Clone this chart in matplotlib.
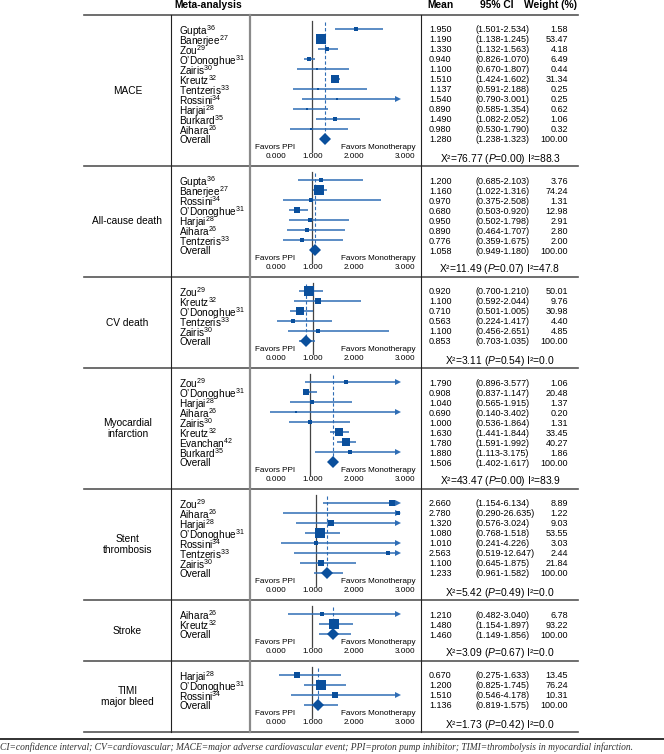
import numpy as np
import matplotlib
matplotlib.use('Agg')
import matplotlib.pyplot as plt

plt.rcParams['font.family'] = 'Liberation Sans'
plt.rcParams['mathtext.fontset'] = 'custom'
plt.rcParams['mathtext.rm'] = 'Liberation Sans'
plt.rcParams['mathtext.it'] = 'Liberation Sans:italic'
plt.rcParams['mathtext.bf'] = 'Liberation Sans:bold'

# ---- data ----
mace_names = ["Gupta", "Banerjee", "Zou", "O’Donoghue", "Zairis", "Kreutz", "Tentzeris",
              "Rossini", "Harjai", "Burkard", "Aihara", "Overall"]
mace_refs = ["36", "27", "29", "31", "30", "32", "33", "34", "28", "35", "26", ""]
mace_mean = [1.950, 1.190, 1.330, 0.940, 1.100, 1.510, 1.137, 1.540, 0.890, 1.490, 0.980, 1.280]
mace_lo = [1.501, 1.138, 1.132, 0.826, 0.670, 1.424, 0.591, 0.790, 0.585, 1.082, 0.530, 1.238]
mace_hi = [2.534, 1.245, 1.563, 1.070, 1.807, 1.602, 2.188, 3.001, 1.354, 2.052, 1.790, 1.323]
mace_w = [1.58, 53.47, 4.18, 6.49, 0.44, 31.34, 0.25, 0.25, 0.62, 1.06, 0.32, 100.00]
mace_stats = ["76.77", "0.00", "88.3"]

acd_names = ["Gupta", "Banerjee", "Rossini", "O’Donoghue", "Harjai", "Aihara", "Tentzeris", "Overall"]
acd_refs = ["36", "27", "34", "31", "28", "26", "33", ""]
acd_mean = [1.200, 1.160, 0.970, 0.680, 0.950, 0.890, 0.776, 1.058]
acd_lo = [0.685, 1.022, 0.375, 0.503, 0.502, 0.464, 0.359, 0.949]
acd_hi = [2.103, 1.316, 2.508, 0.920, 1.798, 1.707, 1.675, 1.180]
acd_w = [3.76, 74.24, 1.31, 12.98, 2.91, 2.80, 2.00, 100.00]
acd_stats = ["11.49", "0.07", "47.8"]

cvd_names = ["Zou", "Kreutz", "O’Donoghue", "Tentzeris", "Zairis", "Overall"]
cvd_refs = ["29", "32", "31", "33", "30", ""]
cvd_mean = [0.920, 1.100, 0.710, 0.563, 1.100, 0.853]
cvd_lo = [0.700, 0.592, 0.501, 0.224, 0.456, 0.703]
cvd_hi = [1.210, 2.044, 1.005, 1.417, 2.651, 1.035]
cvd_w = [50.01, 9.76, 30.98, 4.40, 4.85, 100.00]
cvd_stats = ["3.11", "0.54", "0.0"]

mi_names = ["Zou", "O’Donoghue", "Harjai", "Aihara", "Zairis", "Kreutz", "Evanchan", "Burkard", "Overall"]
mi_refs = ["29", "31", "28", "26", "30", "32", "42", "35", ""]
mi_mean = [1.790, 0.908, 1.040, 0.690, 1.000, 1.630, 1.780, 1.880, 1.506]
mi_lo = [0.896, 0.837, 0.565, 0.140, 0.536, 1.441, 1.591, 1.113, 1.402]
mi_hi = [3.577, 1.147, 1.915, 3.402, 1.864, 1.844, 1.992, 3.175, 1.617]
mi_w = [1.06, 20.48, 1.37, 0.20, 1.31, 33.45, 40.27, 1.86, 100.00]
mi_stats = ["43.47", "0.00", "83.9"]

st_names = ["Zou", "Aihara", "Harjai", "O’Donoghue", "Rossini", "Tentzeris", "Zairis", "Overall"]
st_refs = ["29", "26", "28", "31", "34", "33", "30", ""]
st_mean = [2.660, 2.780, 1.320, 1.080, 1.010, 2.563, 1.100, 1.233]
st_lo = [1.154, 0.290, 0.576, 0.768, 0.241, 0.519, 0.645, 0.961]
st_hi = [6.134, 26.635, 3.024, 1.518, 4.226, 12.647, 1.875, 1.582]
st_w = [8.89, 1.22, 9.03, 53.55, 3.03, 2.44, 21.84, 100.00]
st_stats = ["5.42", "0.49", "0.0"]

sk_names = ["Aihara", "Kreutz", "Overall"]
sk_refs = ["26", "32", ""]
sk_mean = [1.210, 1.480, 1.460]
sk_lo = [0.482, 1.154, 1.149]
sk_hi = [3.040, 1.897, 1.856]
sk_w = [6.78, 93.22, 100.00]
sk_stats = ["3.09", "0.67", "0.0"]

tm_names = ["Harjai", "O’Donoghue", "Rossini", "Overall"]
tm_refs = ["28", "31", "34", ""]
tm_mean = [0.670, 1.200, 1.510, 1.136]
tm_lo = [0.275, 0.825, 0.546, 0.819]
tm_hi = [1.633, 1.745, 4.178, 1.575]
tm_w = [13.45, 76.24, 10.31, 100.00]
tm_stats = ["1.73", "0.42", "0.0"]

sections = [
    ("MACE", mace_names, mace_refs, mace_mean, mace_lo, mace_hi, mace_w, mace_stats),
    ("All-cause death", acd_names, acd_refs, acd_mean, acd_lo, acd_hi, acd_w, acd_stats),
    ("CV death", cvd_names, cvd_refs, cvd_mean, cvd_lo, cvd_hi, cvd_w, cvd_stats),
    ("Myocardial\ninfarction", mi_names, mi_refs, mi_mean, mi_lo, mi_hi, mi_w, mi_stats),
    ("Stent\nthrombosis", st_names, st_refs, st_mean, st_lo, st_hi, st_w, st_stats),
    ("Stroke", sk_names, sk_refs, sk_mean, sk_lo, sk_hi, sk_w, sk_stats),
    ("TIMI\nmajor bleed", tm_names, tm_refs, tm_mean, tm_lo, tm_hi, tm_w, tm_stats),
]
tick_labels = ["0.000", "1.000", "2.000", "3.000"]

footnote = ("CI=confidence interval; CV=cardiovascular; MACE=major adverse cardiovascular event; "
            "PPI=proton pump inhibitor; TIMI=thrombolysis in myocardial infarction.")

# ---- layout (pixels) ----
W, H = 664, 754
X_LEFT, X_C1, X_C2, X_C3, X_RIGHT = 84, 171, 250, 421, 578
ONE_PX, PX_UNIT = 312, 46.0
shifts = [0, 0, 1, -2, 4, 0, 0]
tick_px = [276, 313, 354, 405]
SQ = '#0a4f9c'
LN = '#2f6db5'
GRID = '#555555'

fig = plt.figure(figsize=(W / 100, H / 100), dpi=100)
cv = fig.add_axes([0, 0, 1, 1])
cv.set_xlim(0, W)
cv.set_ylim(H, 0)
cv.axis('off')

# headers
hdr = dict(fontsize=7.4, fontweight='bold', ha='center', va='center')
cv.text(208, 4.5, "Meta-analysis", **hdr)
cv.text(440, 4.5, "Mean", **hdr)
cv.text(497, 4.5, "95% CI", **hdr)
cv.text(551, 4.5, "Weight (%)", **hdr)

top = 15
bounds = [top]
for k, (label, names, refs, mean, lo, hi, w, stats) in enumerate(sections):
    n = len(names)
    h = 10 * n + 31
    bottom = top + h
    bounds.append(bottom)
    rows = [bottom - 27 - 10 * (n - 1 - i) for i in range(n)]

    ax = fig.add_axes([X_C2 / W, 1 - bottom / H, (X_C3 - X_C2) / W, h / H])
    x0 = 1 - (ONE_PX + shifts[k] - X_C2) / PX_UNIT
    ax.set_xlim(x0, x0 + (X_C3 - X_C2) / PX_UNIT)
    ax.set_ylim(bottom, top)
    ax.axis('off')
    clip = 1 + (398 - ONE_PX - shifts[k]) / PX_UNIT

    ax.plot([1, 1], [rows[0] - 8, bottom - 14], color='#444444', lw=0.9, zorder=1)
    ax.plot([mean[-1]] * 2, [rows[0] - 7, rows[-1]], color=LN, lw=0.8,
            ls=(0, (3, 2)), zorder=1)

    for i in range(n):
        y = rows[i]
        ax.plot([lo[i], min(hi[i], clip)], [y, y], color=LN, lw=1.1,
                solid_capstyle='butt', zorder=2)
        if hi[i] > clip:
            ax.plot(clip, y, marker='>', ms=4.6, color=LN, mew=0, zorder=2)
        if i == n - 1:
            ax.plot(mean[i], y, marker='D', ms=6.3, color=SQ, mew=0, zorder=3)
        elif mean[i] <= clip:
            side = min(9.5, 2.0 + 1.05 * np.sqrt(w[i]))
            ax.plot(mean[i], y, marker='s', ms=side * 0.72, color=SQ, mew=0, zorder=3)

        nm = names[i] + (r"$^{\mathrm{%s}}$" % refs[i] if refs[i] else "")
        cv.text(179, y, nm, fontsize=7.2, ha='left', va='center_baseline')
        cv.text(429, y, "%.3f" % mean[i], fontsize=6.5, ha='left', va='center_baseline')
        cv.text(475, y, "(%.3f-%.3f)" % (lo[i], hi[i]), fontsize=6.5, ha='left',
                va='center_baseline')
        cv.text(568, y, "%.2f" % w[i], fontsize=6.5, ha='right', va='center_baseline')

    cv.text(127.5, (top + bottom) / 2, label, fontsize=7.3, ha='center', va='center',
            linespacing=1.15)
    cv.text(275, bottom - 18.5, "Favors PPI", fontsize=5.9, ha='center', va='center')
    cv.text(341, bottom - 18.5, "Favors Monotherapy", fontsize=5.9, ha='left', va='center')
    for tx, tl in zip(tick_px, tick_labels):
        cv.text(tx, bottom - 9.5, tl, fontsize=5.9, ha='center', va='center')
    cv.text(500, bottom - 7.5, "X²=%s ($P$=%s) I²=%s" % tuple(stats), fontsize=7.4,
            ha='center', va='center')
    top = bottom

# table rules
for b in bounds:
    cv.plot([X_LEFT, X_RIGHT], [b, b], color=GRID, lw=1.2)
cv.plot([X_C1, X_C1], [bounds[0], bounds[-1]], color='#222222', lw=0.8)
cv.plot([X_C2, X_C2], [bounds[0], bounds[-1]], color='#8a8a8a', lw=1.6)
cv.plot([X_C3, X_C3], [bounds[0], bounds[-1]], color='#222222', lw=0.8)

cv.plot([0, W], [738.5, 738.5], color='#222222', lw=1.3)
cv.text(0, 747.5, footnote, fontsize=6.85, family='Liberation Serif', style='italic',
        ha='left', va='center', color='#333333')

fig.savefig('out.png', dpi=100)
